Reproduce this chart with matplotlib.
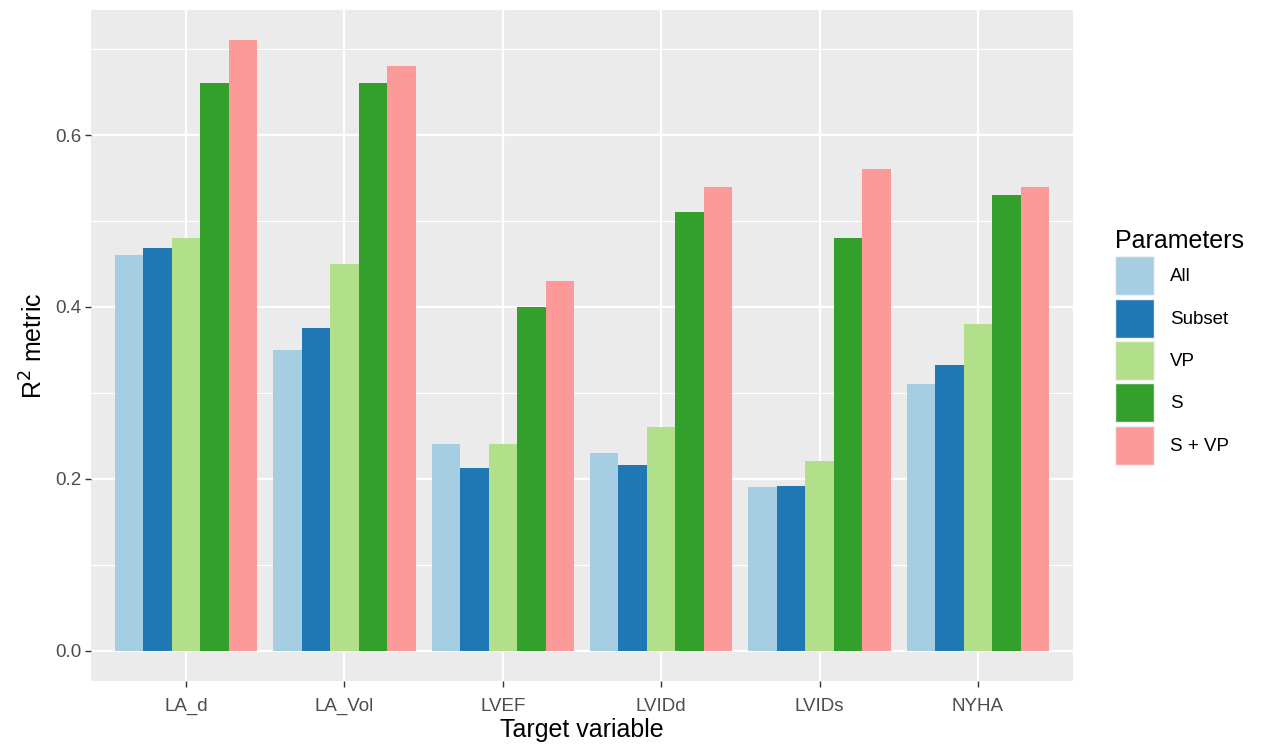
import matplotlib
matplotlib.use("Agg")
import matplotlib.pyplot as plt
import numpy as np
from matplotlib.patches import Patch

plt.rcParams['font.family'] = ['Liberation Sans', 'DejaVu Sans']

categories = ["LA_d", "LA_Vol", "LVEF", "LVIDd", "LVIDs", "NYHA"]
series_names = ["All", "Subset", "VP", "S", "S + VP"]
colors = ["#A6CEE3", "#1F78B4", "#B2DF8A", "#33A02C", "#FB9A99"]

all_vals = [0.46, 0.35, 0.24, 0.23, 0.19, 0.31]
subset_vals = [0.468, 0.375, 0.213, 0.216, 0.191, 0.332]
vp_vals = [0.48, 0.45, 0.24, 0.26, 0.22, 0.38]
s_vals = [0.66, 0.66, 0.40, 0.51, 0.48, 0.53]
svp_vals = [0.71, 0.68, 0.43, 0.54, 0.56, 0.54]
values = [all_vals, subset_vals, vp_vals, s_vals, svp_vals]

fig = plt.figure(figsize=(12.63, 7.44), dpi=100)
ax = fig.add_axes([91/1263, 63/744, 982/1263, 671/744])
ax.set_facecolor("#EBEBEB")

x = np.arange(1, len(categories) + 1)
n = len(series_names)
w = 0.9 / n
for i, (name, vals) in enumerate(zip(series_names, values)):
    ax.bar(x - 0.45 + w * (i + 0.5), vals, width=w, color=colors[i],
           label=name, linewidth=0, zorder=3)

ymax = max(max(v) for v in values)
ax.set_xlim(0.4, len(categories) + 0.6)
ax.set_ylim(-0.05 * ymax, ymax * 1.05)

ax.set_yticks([0.0, 0.2, 0.4, 0.6])
ax.set_yticklabels(["0.0", "0.2", "0.4", "0.6"])
ax.set_yticks([0.1, 0.3, 0.5, 0.7], minor=True)
ax.set_xticks(x)
ax.set_xticklabels(categories)

ax.grid(True, which='major', color='white', linewidth=1.6, zorder=0)
ax.grid(True, which='minor', axis='y', color='white', linewidth=0.8, zorder=0)
ax.set_axisbelow(True)
for s in ax.spines.values():
    s.set_visible(False)

ax.tick_params(axis='both', which='major', length=4, width=1, color='#333333',
               labelsize=13.5, labelcolor='#4D4D4D')
ax.tick_params(axis='x', which='major', pad=8)
ax.tick_params(axis='y', which='major', pad=3)
ax.tick_params(axis='both', which='minor', length=0)

ax.set_xlabel("Target variable", fontsize=18, color='black', labelpad=2)
ax.set_ylabel("R$^2$ metric", fontsize=18, color='black', labelpad=5)

handles = [Patch(facecolor=c, edgecolor='#F2F2F2', linewidth=1.0, label=nm)
           for c, nm in zip(colors, series_names)]
leg = fig.legend(handles=handles, title="Parameters", loc='upper left',
                 bbox_to_anchor=(1115/1263, 1 - 229/744), frameon=False,
                 fontsize=13.5, title_fontsize=18, handlelength=2.08,
                 handleheight=2.82, labelspacing=0.18, handletextpad=0.85,
                 borderaxespad=0, borderpad=0)
leg._legend_box.align = "left"

fig.savefig("out.png", dpi=100)
